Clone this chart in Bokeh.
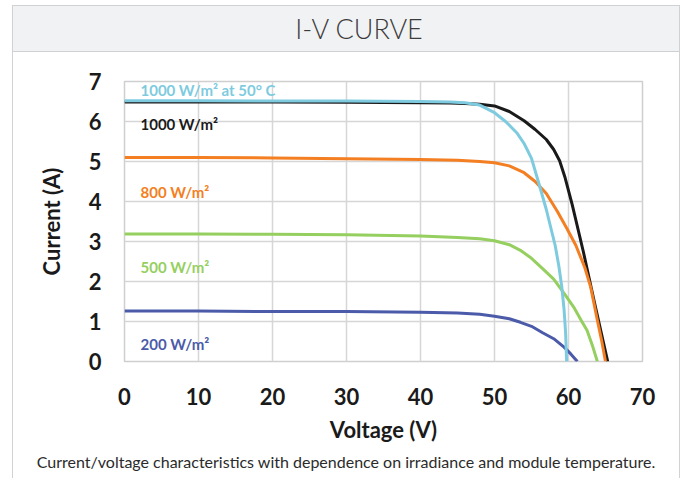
from bokeh.plotting import figure
from bokeh.models import Range1d, FixedTicker, ColumnDataSource, Div
from bokeh.layouts import column
from bokeh.core.properties import value
from bokeh.embed import file_html
from bokeh.resources import INLINE

# ---------------- data ----------------
series_names = ["1000 W/m² at 50° C", "1000 W/m²", "800 W/m²", "500 W/m²", "200 W/m²"]
series_colors = ["#7ecbe0", "#1a1a1a", "#f47f22", "#95cf5f", "#4b5ba9"]

v_1000_50c = [0, 10, 20, 30, 40, 44, 46, 48, 50, 51.5, 53, 54, 55, 56, 57, 57.6, 58.2, 58.7, 59.1, 59.4, 59.6, 59.75]
i_1000_50c = [6.52, 6.52, 6.51, 6.51, 6.50, 6.49, 6.47, 6.41, 6.22, 6.0, 5.72, 5.45, 5.08, 4.45, 3.8, 3.35, 2.9, 2.38, 1.86, 1.3, 0.75, 0.0]

v_1000 = [0, 10, 20, 30, 40, 44, 46, 48, 50, 52, 54, 55.5, 57, 58, 58.8, 59.5, 60.5, 62, 63.5, 65.3]
i_1000 = [6.49, 6.49, 6.49, 6.48, 6.47, 6.46, 6.45, 6.43, 6.39, 6.25, 6.02, 5.8, 5.55, 5.3, 5.02, 4.62, 3.92, 2.75, 1.48, 0.0]

v_800 = [0, 10, 20, 30, 40, 45, 48, 50, 52, 54, 55.5, 57, 58.5, 59.8, 61, 62.2, 63, 63.9, 64.5, 65.0]
i_800 = [5.10, 5.10, 5.09, 5.07, 5.05, 5.03, 5.0, 4.97, 4.89, 4.72, 4.5, 4.2, 3.75, 3.32, 2.9, 2.35, 1.86, 1.03, 0.5, 0.0]

v_500 = [0, 10, 20, 30, 40, 45, 48, 50, 52, 53.5, 55, 56.5, 58, 59.5, 60.7, 61.8, 62.5, 63.3, 63.9]
i_500 = [3.19, 3.19, 3.18, 3.17, 3.14, 3.10, 3.07, 3.02, 2.92, 2.78, 2.58, 2.32, 2.06, 1.68, 1.36, 1.0, 0.78, 0.36, 0.0]

v_200 = [0, 10, 20, 30, 40, 45, 48, 50, 52, 53.5, 55, 56.5, 58, 59.4, 60.3, 61.2]
i_200 = [1.26, 1.26, 1.25, 1.25, 1.23, 1.21, 1.18, 1.13, 1.07, 0.98, 0.88, 0.72, 0.57, 0.36, 0.19, 0.0]

x_ticks = [0, 10, 20, 30, 40, 50, 60, 70]
y_ticks = [0, 1, 2, 3, 4, 5, 6, 7]

title_text = "I-V CURVE"
caption_text = "Current/voltage characteristics with dependence on irradiance and module temperature."
x_label = "Voltage (V)"
y_label = "Current (A)"

# ---------------- layout ----------------
PANEL_LEFT = 13          # figure/caption start (panel border line drawn 1px left of it)
PANEL_W = 666
TITLE_TOP, TITLE_H = 5, 47
FIG_H = 394
CAP_H = 32

FL, FT = 111, 29          # frame offset inside the figure
FW, FH = 518, 280
X0, X1, Y0, Y1 = 0, 70, 0, 7


def sy_to_y(sy_page):
    # page pixel row -> current value (only used to place the text labels)
    frame_top_page = TITLE_TOP + TITLE_H + FT
    return Y1 - (sy_page - frame_top_page) / FH * (Y1 - Y0)


def sx_to_x(sx_page):
    frame_left_page = PANEL_LEFT + FL
    return X0 + (sx_page - frame_left_page) / FW * (X1 - X0)


side_lines = "-1px 0 0 0 #d2d2d2, 1px 0 0 0 #d2d2d2"

title_div = Div(text=title_text, width=PANEL_W + 2, height=TITLE_H,
                margin=(TITLE_TOP, 0, 0, PANEL_LEFT - 1),
                styles={"background-color": "#f1f2f4", "border": "1px solid #cfd1d4",
                        "box-sizing": "border-box", "font-family": "Lato", "font-weight": "300",
                        "font-size": "27px", "color": "#3c3c3c", "text-align": "center",
                        "line-height": "45px", "padding-left": "26px"})

p = figure(width=PANEL_W, height=FIG_H,
           min_border_left=FL, min_border_right=PANEL_W - FL - FW,
           min_border_top=FT, min_border_bottom=FIG_H - FT - FH,
           x_range=Range1d(X0, X1), y_range=Range1d(Y0, Y1),
           output_backend="svg", toolbar_location=None,
           margin=(0, 0, 0, PANEL_LEFT), styles={"box-shadow": side_lines})

p.background_fill_color = "white"
p.border_fill_color = "white"
p.outline_line_color = "#cfcfcf"
p.outline_line_width = 1.5

# axes
for ax, ticks in ((p.xaxis[0], x_ticks), (p.yaxis[0], y_ticks)):
    ax.ticker = FixedTicker(ticks=ticks)
    ax.axis_line_color = None
    ax.major_tick_line_color = None
    ax.minor_tick_line_color = None
    ax.major_tick_out = 0
    ax.major_tick_in = 0
    ax.minor_tick_out = 0
    ax.minor_tick_in = 0
    ax.major_label_text_font = "Lato"
    ax.major_label_text_font_style = "bold"
    ax.major_label_text_font_size = "22px"
    ax.major_label_text_color = "#1a1a1a"
    ax.axis_label_text_font = "Lato"
    ax.axis_label_text_font_style = "bold"
    ax.axis_label_text_font_size = "22px"
    ax.axis_label_text_color = "#1a1a1a"

p.xaxis.axis_label = x_label
p.yaxis.axis_label = y_label
p.xaxis.major_label_standoff = 26
p.xaxis.axis_label_standoff = 8
p.yaxis.major_label_standoff = 23
p.yaxis.axis_label_standoff = 21
p.yaxis.major_label_orientation = "horizontal"

for g in (p.xgrid, p.ygrid):
    g.grid_line_color = "#d6d6d6"
    g.grid_line_width = 1.5
p.xgrid.ticker = FixedTicker(ticks=x_ticks)
p.ygrid.ticker = FixedTicker(ticks=y_ticks)

# curves
series = [(v_1000_50c, i_1000_50c), (v_1000, i_1000), (v_800, i_800), (v_500, i_500), (v_200, i_200)]
draw_order = [1, 2, 3, 4, 0]
for k in draw_order:
    v, i = series[k]
    p.line(v, i, line_color=series_colors[k], line_width=3, line_join="round")

# curve labels
label_x = [sx_to_x(140)] * 5
label_y = [sy_to_y(89), sy_to_y(123), sy_to_y(191), sy_to_y(266), sy_to_y(343)]
src = ColumnDataSource(dict(x=label_x, y=label_y, text=series_names, color=series_colors))
p.text(x="x", y="y", text="text", text_color="color", source=src,
       text_font=value("Lato"), text_font_style="bold", text_font_size="15px",
       text_baseline="middle", text_align="left")

caption_div = Div(text=caption_text, width=PANEL_W, height=CAP_H,
                  margin=(0, 0, 0, PANEL_LEFT),
                  styles={"box-shadow": side_lines, "background-color": "white",
                          "font-family": "Lato", "font-size": "16px", "color": "#2b2b2b",
                          "text-align": "center", "line-height": "32px"})

layout = column(title_div, p, caption_div, spacing=0)

open("out.html", "w").write(file_html(layout, INLINE))
